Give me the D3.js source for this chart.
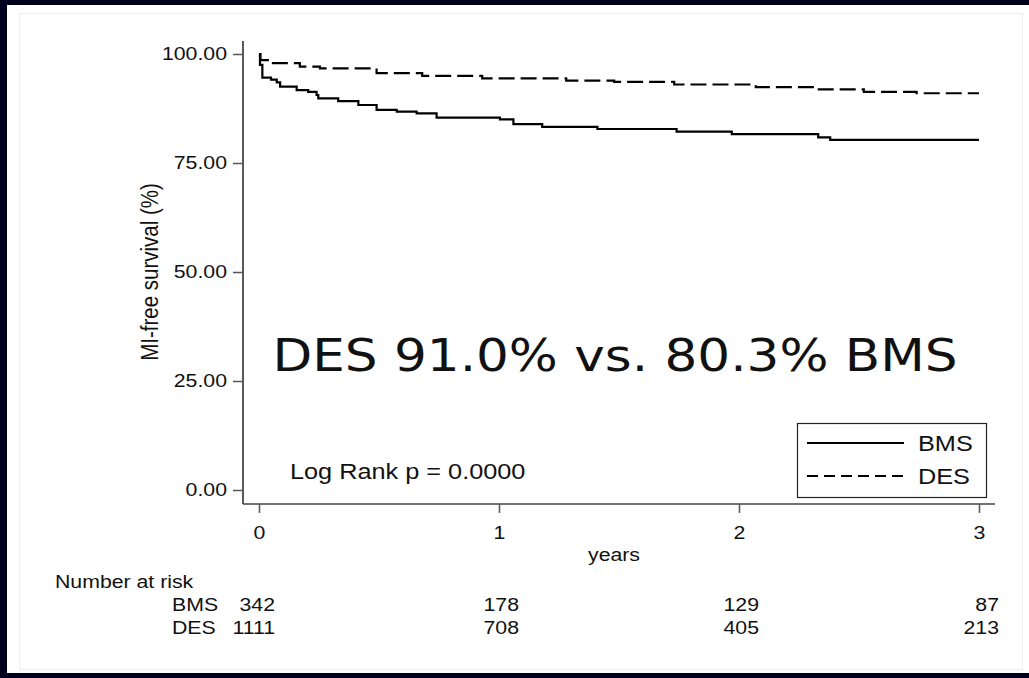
<!DOCTYPE html>
<html>
<head>
<meta charset="utf-8">
<script src="https://cdn.jsdelivr.net/npm/d3@7"></script>
<style>
  body { margin: 0; background: #00001e; }
  svg { display: block; }
  text { font-family: "Liberation Sans", Arial, sans-serif; fill: #111; }
</style>
</head>
<body>
<div id="chart"></div>
<script>
// Kaplan-Meier steps: [years, survival %]
const bmsSteps = [
  [0, 100], [0.004, 97.5], [0.014, 94.6], [0.05, 94.1], [0.074, 93.5], [0.088, 92.5],
  [0.157, 91.7], [0.205, 91.3], [0.24, 90.6], [0.247, 89.8], [0.33, 89.2],
  [0.414, 88.3], [0.49, 87.2], [0.574, 86.8], [0.657, 86.4], [0.74, 85.4],
  [1.004, 85.0], [1.06, 83.9], [1.18, 83.3], [1.41, 82.8], [1.74, 82.2],
  [1.97, 81.6], [2.33, 80.9], [2.38, 80.3], [3.0, 80.3]
];
const desSteps = [
  [0, 100], [0.006, 98.6], [0.053, 97.9], [0.17, 97.1], [0.254, 96.7],
  [0.49, 95.6], [0.68, 95.0], [0.93, 94.4], [1.28, 93.9], [1.48, 93.6],
  [1.73, 93.0], [2.07, 92.4], [2.32, 91.9], [2.52, 91.3], [2.74, 91.0], [3.0, 91.0]
];
const groups = ["BMS", "DES"];
const riskTimes = [0, 1, 2, 3];
const bmsAtRisk = [342, 178, 129, 87];
const desAtRisk = [1111, 708, 405, 213];
const yTicks = [0, 25, 50, 75, 100];
const xTicks = [0, 1, 2, 3];

const W = 1029, H = 678;
const SX = 1.15;   // the slide stretches the graph sideways
const FS = 18.5;   // axis / table text
const FL = 22;     // legend and log-rank note

const svg = d3.select("#chart").append("svg").attr("width", W).attr("height", H);

function label(x0, y0, str, anchor, size) {
  return svg.append("text")
    .attr("transform", `translate(${x0},${y0}) scale(${SX},1)`)
    .attr("text-anchor", anchor || "start")
    .attr("font-size", size || FS)
    .text(str);
}

// white slide panel
svg.append("rect").attr("x", 7).attr("y", 5).attr("width", W - 7).attr("height", 668).attr("fill", "#fff");
svg.append("rect").attr("x", 19.5).attr("y", 13.5).attr("width", 1003).attr("height", 656)
  .attr("fill", "none").attr("stroke", "#eee");

const x = d3.scaleLinear().domain([0, 3]).range([259, 979]);
const y = d3.scaleLinear().domain([0, 100]).range([490, 54]);

// axes
const yAxis = svg.append("g").attr("transform", "translate(243,0)")
  .call(d3.axisLeft(y).tickValues(yTicks).tickFormat(d3.format(".2f")).tickSize(10).tickSizeOuter(0));
yAxis.select(".domain").attr("d", "M0,41V504").attr("stroke", "#222").attr("stroke-width", 1.5);
yAxis.selectAll(".tick text").attr("x", 0).attr("transform", `translate(-16,0) scale(${SX},1)`);

const xAxis = svg.append("g").attr("transform", "translate(0,504)")
  .call(d3.axisBottom(x).tickValues(xTicks).tickFormat(d3.format("d")).tickSize(9).tickSizeOuter(0));
xAxis.select(".domain").attr("d", "M243,0H995").attr("stroke", "#444").attr("stroke-width", 1.5);
xAxis.selectAll(".tick text").attr("y", 35).attr("dy", null).attr("transform", `scale(${SX},1)`);

svg.selectAll(".tick line").attr("stroke", "#555").attr("stroke-width", 1.5);
svg.selectAll(".tick text").attr("font-size", FS).attr("fill", "#111")
  .style("font-family", "Liberation Sans, Arial, sans-serif");

// axis titles
svg.append("text").attr("transform", `translate(158,272) scale(${SX},1) rotate(-90)`)
  .attr("text-anchor", "middle").attr("font-size", 20.5).text("MI-free survival (%)");
label(614, 561, "years", "middle");

// survival curves
const line = d3.line().x(d => x(d[0])).y(d => y(d[1])).curve(d3.curveStepAfter);
svg.append("path").datum(bmsSteps).attr("d", line)
  .attr("fill", "none").attr("stroke", "#000").attr("stroke-width", 2.2);
svg.append("path").datum(desSteps).attr("d", line)
  .attr("fill", "none").attr("stroke", "#000").attr("stroke-width", 2.2)
  .attr("stroke-dasharray", "16,6");

// annotations
label(290, 479, "Log Rank p = 0.0000", "start", FL);
svg.append("text").attr("x", 615).attr("y", 371).attr("text-anchor", "middle")
  .attr("font-size", 44).attr("textLength", 685).attr("lengthAdjust", "spacingAndGlyphs")
  .style("font-family", "DejaVu Sans, sans-serif")
  .text("DES 91.0% vs. 80.3% BMS");

// legend
svg.append("rect").attr("x", 797.5).attr("y", 423.5).attr("width", 189).attr("height", 74)
  .attr("fill", "#fff").attr("stroke", "#222").attr("stroke-width", 1.2);
groups.forEach((g, i) => {
  const ly = 443 + i * 33;
  svg.append("line").attr("x1", 807).attr("x2", 904).attr("y1", ly).attr("y2", ly)
    .attr("stroke", "#000").attr("stroke-width", 2)
    .attr("stroke-dasharray", i ? "11,6" : null);
  label(918, ly + 8, g, "start", FL);
});

// number at risk table
label(55, 588, "Number at risk");
[bmsAtRisk, desAtRisk].forEach((row, i) => {
  const ry = 611 + i * 23;
  label(172, ry, groups[i]);
  row.forEach((n, j) => {
    label(x(riskTimes[j]) + (j === 0 ? 16 : 20), ry, n, "end");
  });
});
</script>
</body>
</html>
